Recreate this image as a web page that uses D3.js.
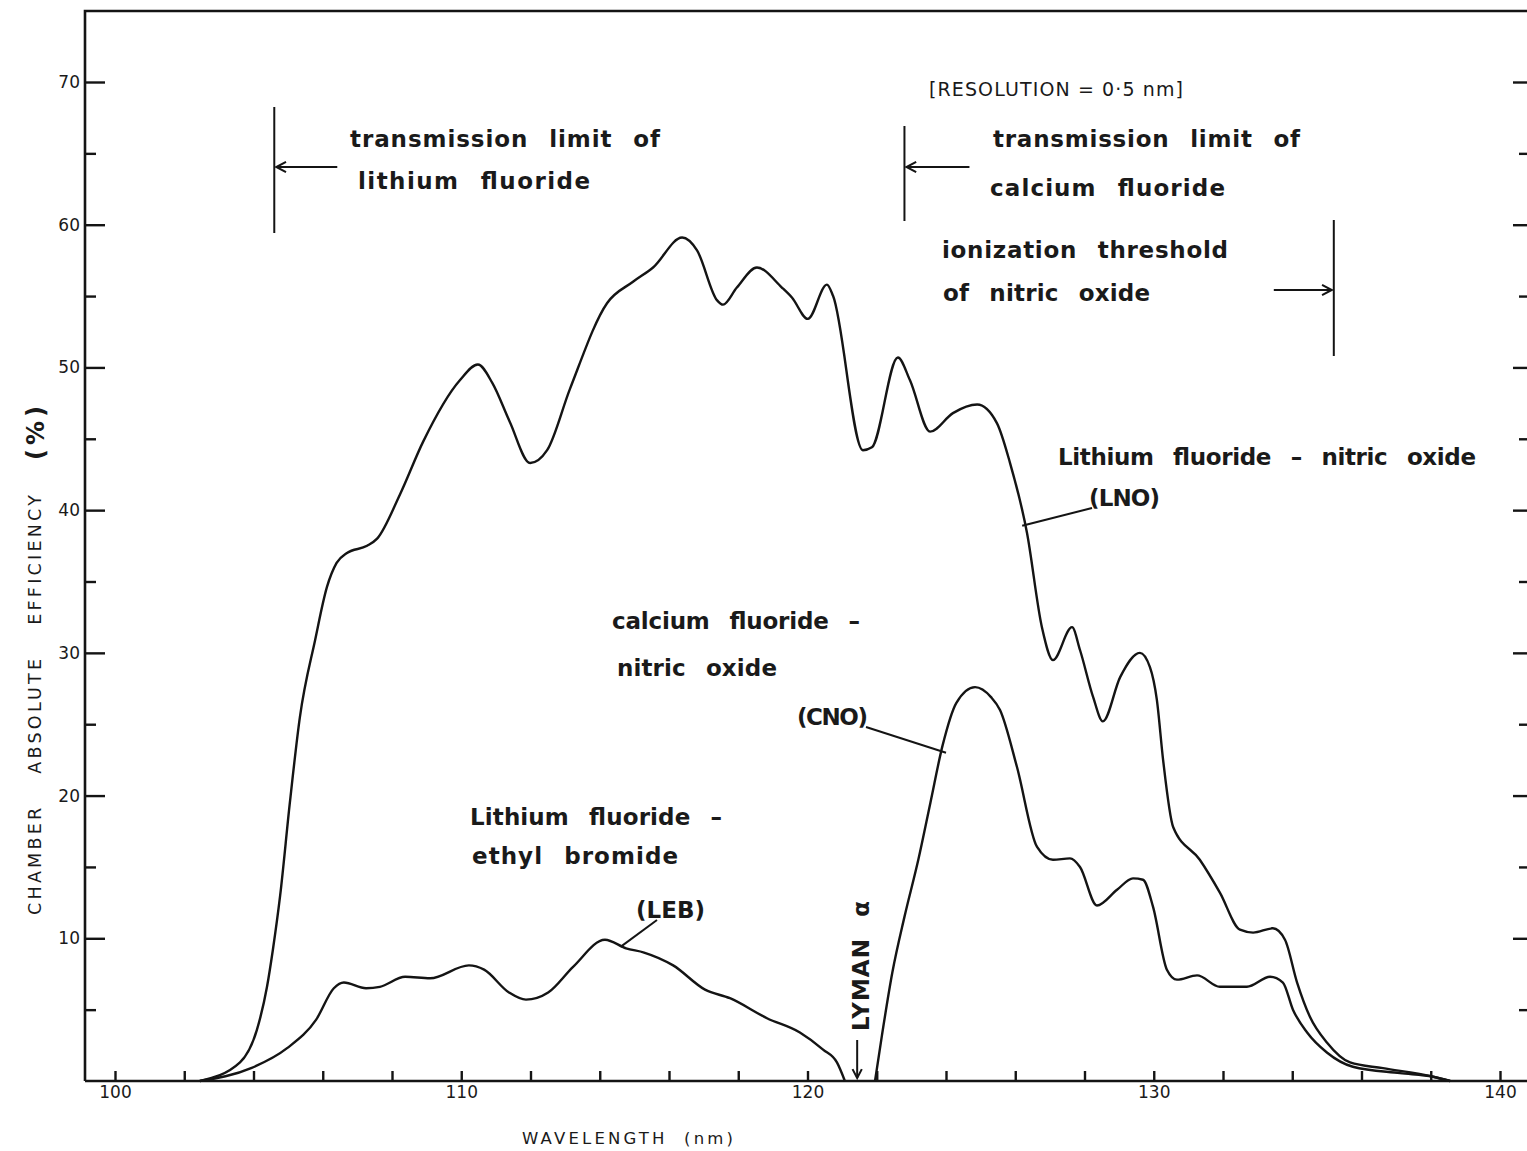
<!DOCTYPE html>
<html>
<head>
<meta charset="utf-8">
<script src="https://cdn.jsdelivr.net/npm/d3@7"></script>
<style>
  html, body { margin: 0; padding: 0; background: #fff; }
  svg { display: block; }
  .tick text { font-family: "DejaVu Sans", sans-serif; font-size: 17px; fill: #1a1a1a; }
  .lbl { font-family: "DejaVu Sans", sans-serif; font-weight: bold; font-size: 23px; fill: #1a1a1a; word-spacing: 12px; }
</style>
</head>
<body>
<svg id="chart" width="1527" height="1151"></svg>
<script>
// Chamber absolute efficiency (%) against wavelength (nm)

// Lithium fluoride – nitric oxide (LNO)
const lnoWavelength = [102.45, 103.61, 104.10, 104.39, 104.56, 104.77, 105.05, 105.34, 105.78, 106.12,
  106.40, 106.70, 107.28, 107.57, 108.23, 108.90, 109.96, 110.48, 110.90, 111.40, 111.99, 112.48, 113.14,
  114.21, 114.96, 115.54, 116.38, 116.81, 117.39, 117.56, 117.96, 118.54, 119.26, 119.55, 120.01,
  120.56, 120.74, 121.60, 121.86, 122.61, 122.96, 123.54, 124.20, 124.90, 125.47, 125.85, 126.34,
  126.77, 127.09, 127.64, 127.87, 128.25, 128.53, 129.03, 129.60, 129.89, 130.09, 130.27, 130.56,
  131.33, 131.91, 132.49, 132.87, 133.44, 133.79, 134.14, 134.51, 135.00, 135.67, 136.62, 138.07, 138.56];
const lnoEfficiency = [0, 1.3, 3.6, 6.6, 9.2, 13.0, 19.5, 25.5, 30.9, 34.6,
  36.3, 37.0, 37.5, 38.0, 41.1, 44.8, 49.1, 50.2, 48.9, 46.2, 43.3, 44.2, 48.5,
  54.5, 56.0, 57.0, 59.1, 58.2, 54.7, 54.4, 55.6, 57.0, 55.6, 54.9, 53.4,
  55.8, 55.0, 44.2, 44.4, 50.7, 49.1, 45.5, 46.8, 47.4, 46.1, 43.3, 38.4,
  31.8, 29.5, 31.8, 30.2, 26.9, 25.2, 28.3, 30.0, 29.0, 26.7, 22.5, 17.8,
  15.5, 13.2, 10.6, 10.4, 10.7, 9.9, 6.9, 4.5, 2.7, 1.3, 0.9, 0.3, 0];

// Calcium fluoride – nitric oxide (CNO)
const cnoWavelength = [121.95, 122.15, 122.45, 122.80, 123.20, 123.55, 123.90, 124.30, 124.84, 125.30,
  125.56, 126.05, 126.63, 127.09, 127.58, 127.87, 128.36, 128.94, 129.40, 129.69, 129.98, 130.38,
  130.67, 131.25, 131.91, 132.69, 133.36, 133.73, 134.02, 134.43, 135.00, 135.75, 137.11, 138.07, 138.56];
const cnoEfficiency = [0, 3.2, 7.6, 11.5, 15.5, 19.5, 23.5, 26.5, 27.6, 26.9,
  26.0, 22.0, 16.4, 15.5, 15.6, 15.0, 12.3, 13.4, 14.2, 14.1, 12.2, 7.8,
  7.1, 7.4, 6.6, 6.6, 7.3, 6.9, 5.0, 3.4, 2.0, 1.0, 0.55, 0.3, 0];

// Lithium fluoride – ethyl bromide (LEB)
const lebWavelength = [102.45, 103.93, 104.97, 105.81, 106.32, 106.61, 107.25, 107.65, 108.38, 109.10,
  110.22, 110.66, 111.38, 111.87, 112.51, 113.23, 114.15, 114.76, 115.28, 116.12, 117.04, 117.76,
  118.83, 119.78, 120.45, 120.85, 121.08];
const lebEfficiency = [0, 0.9, 2.3, 4.3, 6.5, 6.9, 6.5, 6.6, 7.3, 7.2,
  8.1, 7.8, 6.2, 5.7, 6.2, 8.0, 9.9, 9.3, 9.0, 8.1, 6.4, 5.8,
  4.4, 3.4, 2.2, 1.3, 0];

// Axis ticks
const xTicks = d3.range(100, 141, 2);
const xLabels = [100, 110, 120, 130, 140];
const yMajorTicks = [10, 20, 30, 40, 50, 60, 70];
const yMinorTicks = [5, 15, 25, 35, 45, 55, 65];

// Marker wavelengths
const lifLimit = 104.6;
const caf2Limit = 122.8;
const noThreshold = 135.2;
const lymanAlpha = 121.55;

const svg = d3.select("#chart");
const ink = "#141414";

const x = d3.scaleLinear().domain([100, 140]).range([115, 1500]);
const y = d3.scaleLinear().domain([0, 70]).range([1081, 82]);

const frameLeft = 85, frameTop = 11, frameRight = 1529, frameBottom = 1081;

// Frame
svg.append("path")
  .attr("d", `M${frameLeft},${frameBottom}V${frameTop}H${frameRight + 5}M${frameLeft},${frameBottom}H${frameRight + 5}`)
  .attr("fill", "none").attr("stroke", ink).attr("stroke-width", 2.6);

function styleAxis(g) {
  g.select(".domain").remove();
  g.selectAll(".tick line").attr("stroke", ink).attr("stroke-width", 2.4);
}

// Left axis (ticks pointing inward)
svg.append("g").attr("transform", `translate(${frameLeft},0)`)
  .call(d3.axisLeft(y).tickValues(yMajorTicks).tickSizeInner(-20).tickSizeOuter(0).tickPadding(5))
  .call(styleAxis);
svg.append("g").attr("transform", `translate(${frameLeft},0)`)
  .call(d3.axisLeft(y).tickValues(yMinorTicks).tickSizeInner(-11).tickSizeOuter(0).tickFormat(""))
  .call(styleAxis);

// Right axis ticks
svg.append("g").attr("transform", `translate(${frameRight},0)`)
  .call(d3.axisLeft(y).tickValues(yMajorTicks).tickSizeInner(16).tickSizeOuter(0).tickFormat(""))
  .call(styleAxis);
svg.append("g").attr("transform", `translate(${frameRight},0)`)
  .call(d3.axisLeft(y).tickValues(yMinorTicks).tickSizeInner(10).tickSizeOuter(0).tickFormat(""))
  .call(styleAxis);

// Bottom axis
svg.append("g").attr("transform", `translate(0,${frameBottom})`)
  .call(d3.axisBottom(x).tickValues(xTicks).tickSizeInner(-10).tickSizeOuter(0).tickPadding(5)
    .tickFormat(d => xLabels.includes(d) ? d : ""))
  .call(styleAxis);

// Curves
const line = d3.line().x(d => x(d[0])).y(d => y(d[1])).curve(d3.curveMonotoneX);
[[lnoWavelength, lnoEfficiency], [cnoWavelength, cnoEfficiency], [lebWavelength, lebEfficiency]]
  .forEach(([w, e]) => {
    svg.append("path")
      .datum(d3.zip(w, e))
      .attr("d", line)
      .attr("fill", "none").attr("stroke", ink).attr("stroke-width", 2.4)
      .attr("stroke-linejoin", "round");
  });

// Helpers for annotation strokes
function seg(x1, y1, x2, y2, w = 2) {
  svg.append("line").attr("x1", x1).attr("y1", y1).attr("x2", x2).attr("y2", y2)
    .attr("stroke", ink).attr("stroke-width", w);
}
function arrow(x1, y1, x2, y2, head = 11) {
  seg(x1, y1, x2, y2);
  const a = Math.atan2(y2 - y1, x2 - x1);
  const s = Math.PI / 6.5;
  svg.append("path")
    .attr("d", `M${x2 - head * Math.cos(a - s)},${y2 - head * Math.sin(a - s)}L${x2},${y2}L${x2 - head * Math.cos(a + s)},${y2 - head * Math.sin(a + s)}`)
    .attr("fill", "none").attr("stroke", ink).attr("stroke-width", 2);
}
function label(t, px, py, len, extra) {
  const n = svg.append("text").attr("class", "lbl").attr("x", px).attr("y", py).text(t);
  if (len) n.attr("textLength", len).attr("lengthAdjust", "spacing");
  if (extra) extra(n);
  return n;
}

// Lithium fluoride transmission limit
seg(x(lifLimit), 107, x(lifLimit), 233);
arrow(x(lifLimit) + 63, 167, x(lifLimit) + 2, 167);
label("transmission limit of", 350, 147, 310);
label("lithium fluoride", 358, 189, 232);

// Calcium fluoride transmission limit
seg(x(caf2Limit), 126, x(caf2Limit), 221);
arrow(x(caf2Limit) + 65, 167, x(caf2Limit) + 2, 167);
label("transmission limit of", 993, 147, 307);
label("calcium fluoride", 990, 196, 235);

// Resolution note
svg.append("text").attr("x", 929).attr("y", 96)
  .attr("font-family", "DejaVu Sans, sans-serif").attr("font-size", 19).attr("fill", "#1a1a1a")
  .attr("textLength", 254).attr("lengthAdjust", "spacing")
  .text("[RESOLUTION = 0·5 nm]");

// Nitric oxide ionization threshold
seg(x(noThreshold), 220, x(noThreshold), 356);
arrow(x(noThreshold) - 60, 290, x(noThreshold) - 2, 290);
label("ionization threshold", 942, 258, 286);
label("of nitric oxide", 943, 301, 207);

// Curve labels
label("Lithium fluoride – nitric oxide", 1058, 465, 418);
label("(LNO)", 1089, 506, 71);
seg(x(126.2), y(38.9), 1092, 508);

label("calcium fluoride –", 612, 629, 248);
label("nitric oxide", 617, 676, 160);
label("(CNO)", 797, 725, 71);
seg(866, 727, x(124.0), y(23.0));

label("Lithium fluoride –", 470, 825, 252);
label("ethyl bromide", 472, 864, 206);
label("(LEB)", 636, 918, 69);
seg(657, 920, x(114.6), y(9.4));

// Lyman alpha
label("LYMAN α", 0, 0, 130, n => n
  .attr("transform", `translate(${x(lymanAlpha) + 8},1031) rotate(-90)`));
arrow(x(lymanAlpha) - 4, 1040, x(lymanAlpha) - 4, 1078, 10);

// Axis titles
svg.append("text")
  .attr("transform", "translate(41,915) rotate(-90)")
  .attr("font-family", "DejaVu Sans, sans-serif").attr("font-size", 17.5)
  .attr("word-spacing", 22).attr("fill", "#1a1a1a")
  .attr("textLength", 420).attr("lengthAdjust", "spacing")
  .text("CHAMBER ABSOLUTE EFFICIENCY");
svg.append("text")
  .attr("transform", "translate(44,460) rotate(-90)")
  .attr("font-family", "DejaVu Sans, sans-serif").attr("font-size", 24).attr("font-weight", "bold")
  .attr("letter-spacing", 4).attr("fill", "#1a1a1a")
  .text("(%)");
svg.append("text")
  .attr("x", 522).attr("y", 1144)
  .attr("font-family", "DejaVu Sans, sans-serif").attr("font-size", 16.5)
  .attr("word-spacing", 8).attr("fill", "#1a1a1a")
  .attr("textLength", 211).attr("lengthAdjust", "spacing")
  .text("WAVELENGTH (nm)");
</script>
</body>
</html>
